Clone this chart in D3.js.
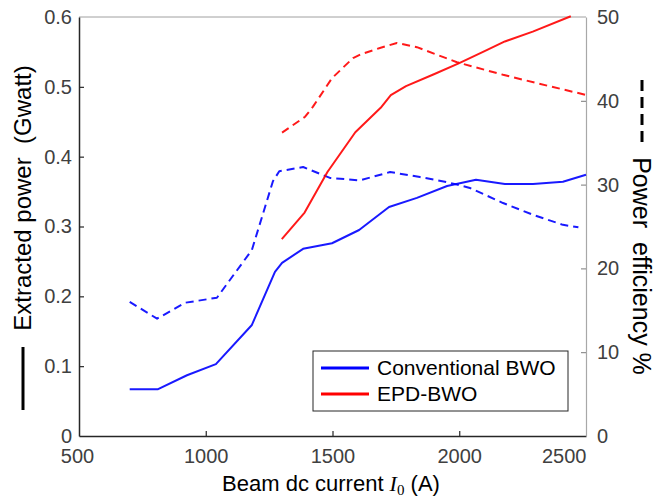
<!DOCTYPE html>
<html>
<head>
<meta charset="utf-8">
<script src="https://cdn.jsdelivr.net/npm/d3@7"></script>
<style>
  body { margin: 0; background: #fff; }
  text { font-family: Arial, "Liberation Sans", sans-serif; }
</style>
</head>
<body>
<div id="chart"></div>
<script>
// beam current (A) and extracted power (GW) for each device
const convCurrent = [700, 812, 926, 1040, 1182, 1273, 1301, 1384, 1498, 1605, 1723, 1833, 1952, 2066, 2180, 2291, 2409, 2500];
const convPower   = [0.067, 0.067, 0.087, 0.103, 0.159, 0.235, 0.248, 0.268, 0.276, 0.295, 0.328, 0.341, 0.358, 0.367, 0.361, 0.361, 0.364, 0.374];

const convEffCurrent = [700, 808, 918, 1044, 1182, 1265, 1290, 1384, 1490, 1608, 1727, 1845, 1952, 2042, 2173, 2291, 2409, 2470];
const convEff        = [16.0, 14.0, 15.9, 16.5, 22.2, 30.4, 31.6, 32.1, 30.8, 30.5, 31.5, 30.9, 30.3, 29.6, 27.8, 26.4, 25.2, 24.9];

const epdCurrent = [1300, 1390, 1480, 1590, 1690, 1730, 1790, 1900, 2000, 2100, 2180, 2290, 2440];
const epdPower   = [0.282, 0.320, 0.378, 0.435, 0.470, 0.488, 0.501, 0.518, 0.534, 0.551, 0.565, 0.579, 0.601];

const epdEffCurrent = [1301, 1392, 1423, 1498, 1581, 1616, 1687, 1754, 1833, 1991, 2173, 2307, 2500];
const epdEff        = [36.2, 38.1, 39.3, 42.7, 45.1, 45.6, 46.3, 46.9, 46.4, 44.6, 43.1, 42.1, 40.7];

const xTicks = [500, 1000, 1500, 2000, 2500];
const yLeftTicks = [0, 0.1, 0.2, 0.3, 0.4, 0.5, 0.6];
const yRightTicks = [0, 10, 20, 30, 40, 50];

const legendNames = ["Conventional BWO", "EPD-BWO"];
const legendColors = ["#0000ff", "#ff0000"];

const width = 665, height = 498;
const pLeft = 79, pRight = 586, pTop = 17, pBottom = 436;

const svg = d3.select("#chart").append("svg")
    .attr("width", width)
    .attr("height", height);

const x = d3.scaleLinear().domain([500, 2500]).range([pLeft, pRight]);
const yL = d3.scaleLinear().domain([0, 0.6]).range([pBottom, pTop]);
const yR = d3.scaleLinear().domain([0, 50]).range([pBottom, pTop]);

// top edge of the box, lighter grey like matlab
svg.append("line").attr("x1", pLeft).attr("x2", pRight).attr("y1", pTop).attr("y2", pTop)
    .attr("stroke", "#a0a0a0").attr("stroke-width", 1);

const axisColor = "#262626";
const tickText = "#404040";

// bottom axis
const gx = svg.append("g").attr("transform", `translate(0,${pBottom})`)
    .call(d3.axisBottom(x).tickValues(xTicks).tickFormat(d3.format("d")).tickSizeInner(-5).tickSizeOuter(0).tickPadding(13));
// left axis
const gl = svg.append("g").attr("transform", `translate(${pLeft},0)`)
    .call(d3.axisLeft(yL).tickValues(yLeftTicks).tickFormat(d => d === 0 ? "0" : d3.format(".1f")(d)).tickSizeInner(-5).tickSizeOuter(0).tickPadding(7));
// right axis
const gr = svg.append("g").attr("transform", `translate(${pRight},0)`)
    .call(d3.axisRight(yR).tickValues(yRightTicks).tickSizeInner(-5).tickSizeOuter(0).tickPadding(11));

[gx, gl].forEach(g => {
    g.select(".domain").attr("stroke", axisColor).attr("stroke-width", 1.5);
    g.selectAll(".tick line").attr("stroke", axisColor).attr("stroke-width", 1.2);
    g.selectAll(".tick text").attr("fill", tickText).style("font-size", "20px");
});
gr.select(".domain").attr("stroke", "#a8a8a8").attr("stroke-width", 1.2);
gr.selectAll(".tick line").attr("stroke", "#7a7a7a");
gr.selectAll(".tick text").attr("fill", tickText).style("font-size", "20px");
// no tick marks where they would sit on the frame
gx.selectAll(".tick line").filter(d => d === 500 || d === 2500).remove();
gl.selectAll(".tick line").filter(d => d === 0 || d === 0.6).remove();
gr.selectAll(".tick line").filter(d => d === 0 || d === 50).remove();
// last x label sits left of the corner, clear of the right axis "0"
gx.selectAll(".tick text").filter(d => d === 2500).attr("text-anchor", "end").attr("x", 0);
gx.selectAll(".tick text").filter(d => d === 500).attr("x", -2);

// series
const lineP = d3.line().x(d => x(d[0])).y(d => yL(d[1]));
const lineE = d3.line().x(d => x(d[0])).y(d => yR(d[1]));

const series = [
    { pts: d3.zip(convCurrent, convPower), gen: lineP, color: legendColors[0], dash: null },
    { pts: d3.zip(convEffCurrent, convEff), gen: lineE, color: legendColors[0], dash: "8,5" },
    { pts: d3.zip(epdCurrent, epdPower), gen: lineP, color: legendColors[1], dash: null },
    { pts: d3.zip(epdEffCurrent, epdEff), gen: lineE, color: legendColors[1], dash: "8,5" }
];

svg.append("g").selectAll("path").data(series).enter().append("path")
    .attr("d", d => d.gen(d.pts))
    .attr("fill", "none")
    .attr("stroke", d => d.color)
    .attr("stroke-width", 2)
    .attr("stroke-dasharray", d => d.dash)
    .attr("stroke-linejoin", "round")
    .attr("opacity", 0.9);

// legend
const lg = svg.append("g").attr("transform", "translate(313,351)");
lg.append("rect").attr("width", 255).attr("height", 60)
    .attr("fill", "#fff").attr("stroke", "#262626").attr("stroke-width", 1);
legendNames.forEach((name, i) => {
    const yy = 17 + i * 26;
    lg.append("line").attr("x1", 8).attr("x2", 56).attr("y1", yy).attr("y2", yy)
        .attr("stroke", legendColors[i]).attr("stroke-width", 3);
    lg.append("text").attr("x", 64).attr("y", yy + 7)
        .style("font-size", "21px").attr("fill", "#000").text(name);
});

// left axis label with solid-line key
svg.append("text")
    .attr("transform", "translate(31,198) rotate(-90)")
    .attr("text-anchor", "middle")
    .style("font-size", "24px")
    .attr("fill", "#000")
    .text("Extracted power\u00a0\u00a0(Gwatt)");
svg.append("line").attr("x1", 23).attr("x2", 23).attr("y1", 347).attr("y2", 410)
    .attr("stroke", "#000").attr("stroke-width", 3);

// right axis label with dashed-line key
svg.append("text")
    .attr("transform", "translate(633,266) rotate(90)")
    .attr("text-anchor", "middle")
    .style("font-size", "25px")
    .attr("fill", "#000")
    .text("Power\u00a0\u00a0efficiency %");
svg.append("line").attr("x1", 642).attr("x2", 642).attr("y1", 80).attr("y2", 146)
    .attr("stroke", "#000").attr("stroke-width", 3).attr("stroke-dasharray", "11,6");

// x label with italic I, subscript 0
const xl = svg.append("text")
    .attr("x", 331).attr("y", 491)
    .attr("text-anchor", "middle")
    .style("font-size", "22px")
    .attr("fill", "#000");
xl.append("tspan").text("Beam dc current ");
xl.append("tspan").style("font-family", "'Liberation Serif', 'Times New Roman', serif")
    .style("font-style", "italic").text("I");
xl.append("tspan").attr("dy", 4).style("font-size", "15px").style("font-family", "'Liberation Serif', serif").text("0");
xl.append("tspan").attr("dy", -4).text(" (A)");
</script>
</body>
</html>
